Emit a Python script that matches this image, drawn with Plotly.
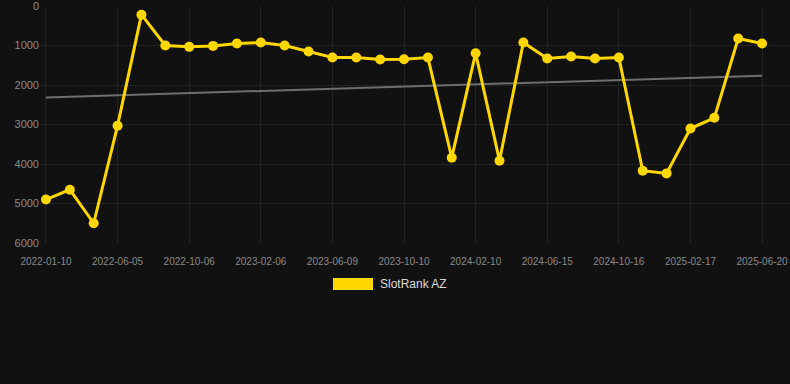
import numpy as np
import plotly.graph_objects as go

dates = [
    "2022-01-10", "2022-02-24", "2022-04-21", "2022-06-05", "2022-07-16", "2022-08-26",
    "2022-10-06", "2022-11-16", "2022-12-27", "2023-02-06", "2023-03-19", "2023-04-29",
    "2023-06-09", "2023-07-20", "2023-08-30", "2023-10-10", "2023-11-20", "2023-12-31",
    "2024-02-10", "2024-03-22", "2024-05-04", "2024-06-15", "2024-07-26", "2024-09-05",
    "2024-10-16", "2024-11-26", "2025-01-06", "2025-02-17", "2025-03-30", "2025-05-10",
    "2025-06-20",
]
rank = [
    4900, 4650, 5500, 3030, 220, 1000,
    1034, 1010, 950, 925, 1000, 1153,
    1305, 1305, 1356, 1350, 1305, 3840,
    1195, 3916, 925, 1331, 1280, 1331,
    1305, 4170, 4238, 3102, 2831, 822,
    950,
]
tick_dates = dates[::3]
y_ticks = [0, 1000, 2000, 3000, 4000, 5000, 6000]
series_name = "SlotRank AZ"

idx = np.arange(len(rank))
slope, intercept = np.polyfit(idx, np.array(rank, dtype=float), 1)
trend = slope * idx + intercept

fig = go.Figure()
fig.add_trace(go.Scatter(
    x=dates, y=trend, mode="lines",
    line=dict(color="#6e6e6e", width=2),
    hoverinfo="skip", showlegend=False,
))
fig.add_trace(go.Scatter(
    x=dates, y=rank, mode="lines+markers", name=series_name,
    line=dict(color="#FFD700", width=3),
    marker=dict(color="#FFD700", size=10),
    showlegend=False,
))

fig.update_layout(
    width=790, height=384,
    margin=dict(l=40, r=0, t=6, b=141),
    paper_bgcolor="#111111", plot_bgcolor="#111111",
    font=dict(family="Arial, Liberation Sans, sans-serif", color="#8a8a8a"),
    xaxis=dict(
        type="category", tickmode="array", tickvals=tick_dates, ticktext=tick_dates,
        range=[-0.25, 31.17], showgrid=True, gridcolor="#232323", gridwidth=1,
        zeroline=False, showline=False, tickfont=dict(size=10, color="#8a8a8a"),
        ticks="outside", ticklen=9, tickcolor="rgba(0,0,0,0)",
        ticklabeloverflow="allow",
    ),
    yaxis=dict(
        range=[6000, 0], tickmode="array", tickvals=y_ticks,
        showgrid=True, gridcolor="#232323", gridwidth=1, zeroline=False,
        tickfont=dict(size=11, color="#8a8a8a"), ticks="", ticklen=0,
        ticklabeloverflow="allow",
    ),
    showlegend=False,
)

fig.add_shape(type="rect", xref="paper", yref="paper",
              x0=293/750, x1=333/750, y0=-(290-243)/237, y1=-(278-243)/237,
              fillcolor="#FFD700", line=dict(width=0))
fig.add_annotation(xref="paper", yref="paper", x=338/750, y=-(284-243)/237,
                   text=series_name, showarrow=False, xanchor="left", yanchor="middle",
                   font=dict(size=12, color="#dddddd"))

fig.write_html("out.html", config={"displayModeBar": False},
               post_script="document.body.style.margin='0';")
